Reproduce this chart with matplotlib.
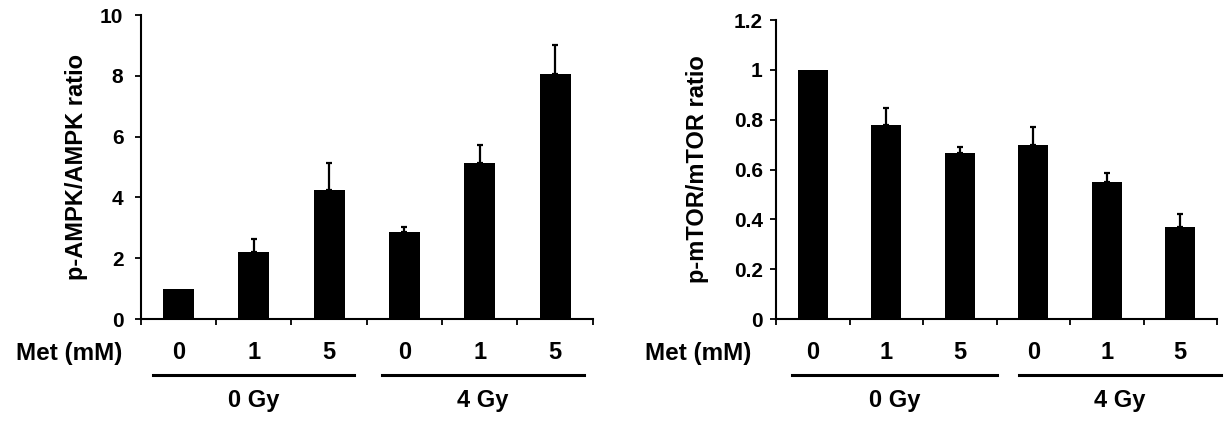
import numpy as np
import matplotlib.pyplot as plt

plt.rcParams['font.family'] = ['Liberation Sans', 'DejaVu Sans']
plt.rcParams['font.weight'] = 'bold'

met_labels = ["0", "1", "5", "0", "1", "5"]
groups = ["0 Gy", "4 Gy"]

ampk = [1.0, 2.2, 4.25, 2.85, 5.15, 8.05]
ampk_err = [0.0, 0.43, 0.9, 0.17, 0.57, 0.97]

mtor = [1.0, 0.78, 0.665, 0.70, 0.55, 0.37]
mtor_err = [0.0, 0.065, 0.025, 0.07, 0.035, 0.05]

fig = plt.figure(figsize=(12.25, 4.22), dpi=100)
ax1 = fig.add_axes([0.1149, 0.244, 0.369, 0.720])
ax2 = fig.add_axes([0.6335, 0.244, 0.360, 0.7085])


def fmt_int(v):
    return "%d" % v


def fmt_dec(v):
    s = "%.1f" % v
    if s.endswith(".0"):
        s = s[:-2]
    return s


def draw(ax, vals, errs, ymax, ystep, ylabel, ylab_x, ypad, met_x, lines, ylabfmt):
    x = np.arange(len(vals)) + 0.5
    ax.bar(x, vals, width=0.41, color="black")
    vals = np.array(vals)
    errs = np.array(errs)
    m = errs > 0
    ax.errorbar(x[m], vals[m], yerr=[np.zeros(m.sum()), errs[m]], fmt="none",
                ecolor="black", elinewidth=1.6, capsize=2.5, capthick=1.6)
    ax.set_xlim(0, len(vals))
    ax.set_ylim(0, ymax)
    yt = np.arange(0, ymax + ystep / 2, ystep)
    ax.set_yticks(yt)
    ax.set_yticklabels([ylabfmt(v) for v in yt], fontsize=15, fontweight="bold")
    ax.set_xticks(np.arange(len(vals) + 1))
    ax.set_xticklabels([])
    ax.tick_params(axis="x", direction="out", length=4.5, width=1.3)
    ax.tick_params(axis="y", direction="out", length=4.5, width=1.3, pad=ypad)
    for s in ["top", "right"]:
        ax.spines[s].set_visible(False)
    for s in ["left", "bottom"]:
        ax.spines[s].set_linewidth(1.5)
    ax.set_ylabel(ylabel, fontsize=17, fontweight="bold")
    ax.yaxis.set_label_coords(ylab_x, 0.5)

    tr = ax.get_xaxis_transform()
    for xi, lab in zip(x, met_labels):
        ax.annotate(lab, xy=(xi, 0), xycoords=tr, xytext=(0, -33),
                    textcoords="offset pixels", ha="center", va="center",
                    fontsize=17, fontweight="bold")
    ax.annotate("Met (mM)", xy=(met_x, 0), xycoords=tr, xytext=(0, -34),
                textcoords="offset pixels", ha="right", va="center",
                fontsize=17.5, fontweight="bold")
    h = ax.get_window_extent().height
    for (x0, x1), g in zip(lines, groups):
        ax.plot([x0, x1], [-56 / h, -56 / h], transform=tr,
                color="black", lw=2.2, clip_on=False)
        ax.annotate(g, xy=((x0 + x1) / 2, 0), xycoords=tr, xytext=(0, -81),
                    textcoords="offset pixels", ha="center", va="center",
                    fontsize=17, fontweight="bold")


draw(ax1, ampk, ampk_err, 10, 2, "p-AMPK/AMPK ratio", -0.117, 8, -0.25,
     [(0.16, 2.83), (3.2, 5.88)], fmt_int)
draw(ax2, mtor, mtor_err, 1.2, 0.2, "p-mTOR/mTOR ratio", -0.152, 5, -0.33,
     [(0.22, 3.0), (3.3, 6.05)], fmt_dec)

fig.savefig("out.png", dpi=100)
